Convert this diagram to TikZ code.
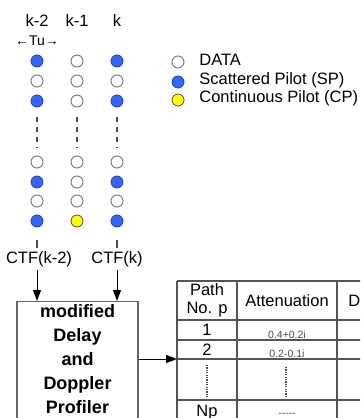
\documentclass[tikz,border=0pt]{standalone}
\usepackage{fontspec}
\setmainfont{Liberation Sans}
\usetikzlibrary{arrows.meta}

\definecolor{spblue}{RGB}{51,102,255}
\definecolor{spedge}{RGB}{35,65,170}
\definecolor{cpyellow}{RGB}{255,255,0}
\definecolor{gridgray}{RGB}{85,85,85}

\begin{document}
\begin{tikzpicture}[x=1pt, y=-1pt, thick,
  data/.style={draw=gray, fill=white, line width=1pt},
  sp/.style={draw=spedge, fill=spblue, line width=0.8pt},
  cp/.style={draw=black!70, fill=cpyellow, line width=0.8pt},
  lbl/.style={font=\fontsize{16.5}{19}\selectfont, inner sep=0pt, anchor=base},
  small/.style={font=\fontsize{10.5}{12}\selectfont, text=black!70, inner sep=0pt, anchor=base},
  vdash/.style={draw=black!70, line width=1.2pt, dash pattern=on 5pt off 5pt},
  tick/.style={draw=black!70, line width=1.2pt},
  arr/.style={draw=black, line width=1pt, -{Triangle[length=11pt, width=8pt]}},
  grid/.style={draw=gridgray, line width=1.4pt},
  dotted line/.style={draw=black!70, line width=1.4pt, dash pattern=on 1.2pt off 1.2pt},
  profbox/.style={draw=black!60, line width=1.2pt, minimum width=121pt, minimum height=122pt},
  proftext/.style={align=center, inner sep=0pt, font=\bfseries\fontsize{18}{24}\selectfont}
]
  \useasboundingbox (0,0) rectangle (360,418);
  \clip (0,0) rectangle (360,418);

  % -- Symbol index labels --
  \node[lbl] (km2) at (37,26) {k-2};
  \node[lbl] (km1) at (77,26) {k-1};
  \node[lbl] (kk) at (117,26) {k};
  \node[lbl, font=\fontsize{14}{16}\selectfont] (tu) at (37,45) {←Tu→};

  % -- Symbol k-2 --
  \draw[sp] (37,61) circle[radius=6pt];
  \draw[data] (37,81) circle[radius=6pt];
  \draw[sp] (37,101) circle[radius=6pt];
  \draw[vdash] (37,117) -- (37,148);
  \draw[data] (37,162) circle[radius=6pt];
  \draw[sp] (37,182) circle[radius=6pt];
  \draw[data] (37,201) circle[radius=6pt];
  \draw[sp] (37,221) circle[radius=6pt];

  % -- Symbol k-1 --
  \draw[data] (77,61) circle[radius=6pt];
  \draw[data] (77,81) circle[radius=6pt];
  \draw[data] (77,101) circle[radius=6pt];
  \draw[vdash] (77,117) -- (77,148);
  \draw[data] (77,162) circle[radius=6pt];
  \draw[data] (77,182) circle[radius=6pt];
  \draw[data] (77,201) circle[radius=6pt];
  \draw[cp] (77,221) circle[radius=6pt];

  % -- Symbol k --
  \draw[sp] (117,61) circle[radius=6pt];
  \draw[data] (117,81) circle[radius=6pt];
  \draw[sp] (117,101) circle[radius=6pt];
  \draw[vdash] (117,117) -- (117,148);
  \draw[data] (117,162) circle[radius=6pt];
  \draw[sp] (117,182) circle[radius=6pt];
  \draw[data] (117,201) circle[radius=6pt];
  \draw[sp] (117,221) circle[radius=6pt];

  % -- Legend --
  \draw[data] (178,62) circle[radius=6pt];
  \draw[sp] (178,82) circle[radius=6pt];
  \draw[cp] (178,100) circle[radius=6pt];
  \node[lbl, anchor=base west] (lgdata) at (199,65) {DATA};
  \node[lbl, anchor=base west] (lgsp) at (199,84) {Scattered Pilot (SP)};
  \node[lbl, anchor=base west] (lgcp) at (199,102) {Continuous Pilot (CP)};

  % -- Channel transfer functions --
  \node[lbl, inner sep=3pt] (ctf2) at (39,263) {CTF(k-2)};
  \node[lbl, inner sep=3pt] (ctf0) at (117,263) {CTF(k)};
  \coordinate (t2) at (37,240);
  \coordinate (t0) at (117,240);
  \draw[tick] (t2) -- (t2 |- ctf2.north);
  \draw[tick] (t0) -- (ctf0.north);

  % -- Profiler block --
  \node[profbox, anchor=north] (prof) at (77.5,301) {};
  \node[proftext] (proftxt) at (77.5,359.5)
    {modified\\Delay\\and\\Doppler\\Profiler};
  \draw[arr] (t2 |- ctf2.south) -- (t2 |- prof.north);
  \draw[arr] (ctf0.south) -- (ctf0 |- prof.north);

  % -- Path table --
  \draw[grid] (177,281) -- (370,281);
  \draw[grid] (177,320) -- (370,320);
  \draw[grid] (177,340) -- (370,340);
  \draw[grid] (177,359) -- (370,359);
  \draw[grid] (177,400) -- (370,400);
  \draw[grid] (177,281) -- (177,430);
  \draw[grid] (237,281) -- (237,430);
  \draw[grid] (337,281) -- (337,430);

  \node[lbl] (path) at (207,295) {Path};
  \node[lbl] (pno) at (207,313) {No. p};
  \node[lbl] (att) at (287,306) {Attenuation};
  \node[lbl, anchor=base west] (dcol) at (348,306) {D};
  \node[lbl] (p1) at (207,335) {1};
  \node[small] (a1) at (287,338) {0.4+0.2i};
  \node[lbl] (p2) at (207,355) {2};
  \node[small] (a2) at (287,357) {0.2-0.1i};
  \draw[dotted line] (207,365) -- (207,398);
  \draw[dotted line] (286,367) -- (286,398);
  \node[lbl] (pn) at (207,416) {Np};
  \node[small] (an) at (287,416) {-{}-{}-{}-{}-};

  % -- Profiler output --
  \coordinate (tblin) at (177,359);
  \draw[arr] (prof.east |- tblin) -- (tblin);

\end{tikzpicture}
\end{document}
